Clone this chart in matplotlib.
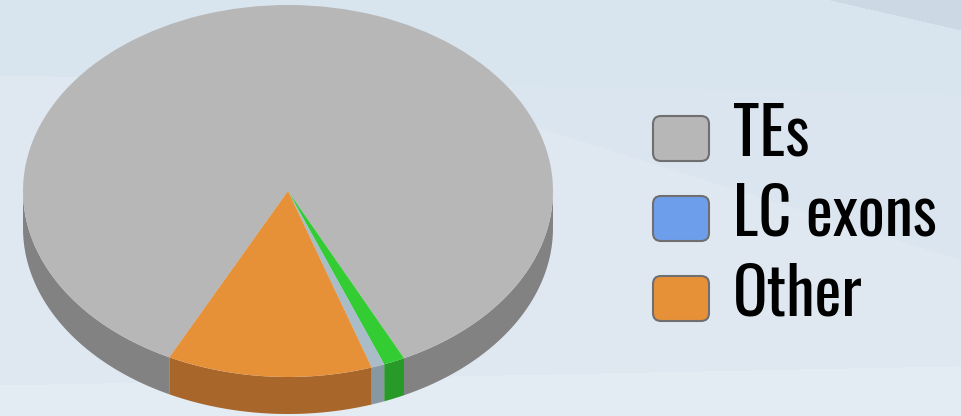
import numpy as np
import matplotlib
matplotlib.use("Agg")
import matplotlib.pyplot as plt
from matplotlib.patches import Wedge, Polygon, FancyBboxPatch
from matplotlib.transforms import Affine2D

# ---- data ----
slice_labels = ["TEs", "Unlabeled", "LC exons", "Other"]
slice_shares = [85.4, 1.3, 0.8, 12.5]
legend_labels = ["TEs", "LC exons", "Other"]

top_colors = {"TEs": "#b7b7b7", "Unlabeled": "#33cc33", "LC exons": "#a9bcc7", "Other": "#e69138"}
side_colors = {"TEs": "#828282", "Unlabeled": "#279a27", "LC exons": "#8898a2", "Other": "#a8662a"}
legend_colors = {"TEs": "#b7b7b7", "LC exons": "#6d9eeb", "Other": "#e69138"}

W, H = 961, 416
fig = plt.figure(figsize=(W / 100, H / 100), dpi=100)
ax = fig.add_axes([0, 0, 1, 1])
ax.set_xlim(0, W)
ax.set_ylim(H, 0)
ax.axis("off")

# background (soft blue-grey with faint diagonal bands)
yy, xx = np.mgrid[0:H, 0:W]
def rgb(h):
    return np.array([int(h[i:i + 2], 16) for i in (1, 3, 5)]) / 255.0
bg = np.ones((H, W, 3)) * rgb("#dfe8f1")
upper = yy < 147 + (xx - 600) * (113 / 361.0)
bg[upper] = rgb("#dbe5ef")
top_left = (yy < 75 + xx * 0.02)
bg[top_left] = rgb("#d8e4ee")
dark = (yy < (xx - 830) * 30 / 131.0)
bg[dark] = rgb("#ccd9e4")
bottom = yy > 385 - xx * 0.02
bg[bottom] = rgb("#e3ebf3")
ax.imshow(bg, extent=(0, W, H, 0), zorder=0, aspect="auto", interpolation="bilinear")

# pie geometry
cx, cy, a, b, depth = 288, 191, 265, 186, 37
start = 116.6
angles = []
cur = start
for v in slice_shares:
    span = v / sum(slice_shares) * 360.0
    angles.append((cur, cur + span))
    cur += span

def front_parts(t1, t2):
    parts = []
    for k in range(-1, 3):
        lo, hi = max(t1, 360 * k), min(t2, 360 * k + 180)
        if hi > lo:
            parts.append((lo, hi))
    return parts

for lab, (t1, t2) in zip(slice_labels, angles):
    for lo, hi in front_parts(t1, t2):
        t = np.radians(np.linspace(lo, hi, 200))
        xs = cx + a * np.cos(t)
        ys = cy + b * np.sin(t)
        pts = np.concatenate([np.c_[xs, ys], np.c_[xs[::-1], ys[::-1] + depth]])
        ax.add_patch(Polygon(pts, closed=True, fc=side_colors[lab], ec="none", zorder=2))

tr = Affine2D().scale(a, b).translate(cx, cy) + ax.transData
for lab, (t1, t2) in zip(slice_labels, angles):
    ax.add_patch(Wedge((0, 0), 1, t1, t2, fc=top_colors[lab], ec="none", transform=tr, zorder=3))

# legend
font = ["Oswald", "DejaVu Sans"]
box_x, box_w, box_h = 653, 56, 45
box_tops = [116, 196, 276]
for lab, ty in zip(legend_labels, box_tops):
    ax.add_patch(FancyBboxPatch((box_x, ty), box_w, box_h, boxstyle="round,pad=0,rounding_size=8",
                                fc=legend_colors[lab], ec="#6f6f6f", lw=1.5, zorder=4))
    ax.text(733, ty + box_h - 6, lab, fontsize=46, family=font, va="baseline", ha="left", zorder=5)

fig.savefig("out.png", dpi=100)
